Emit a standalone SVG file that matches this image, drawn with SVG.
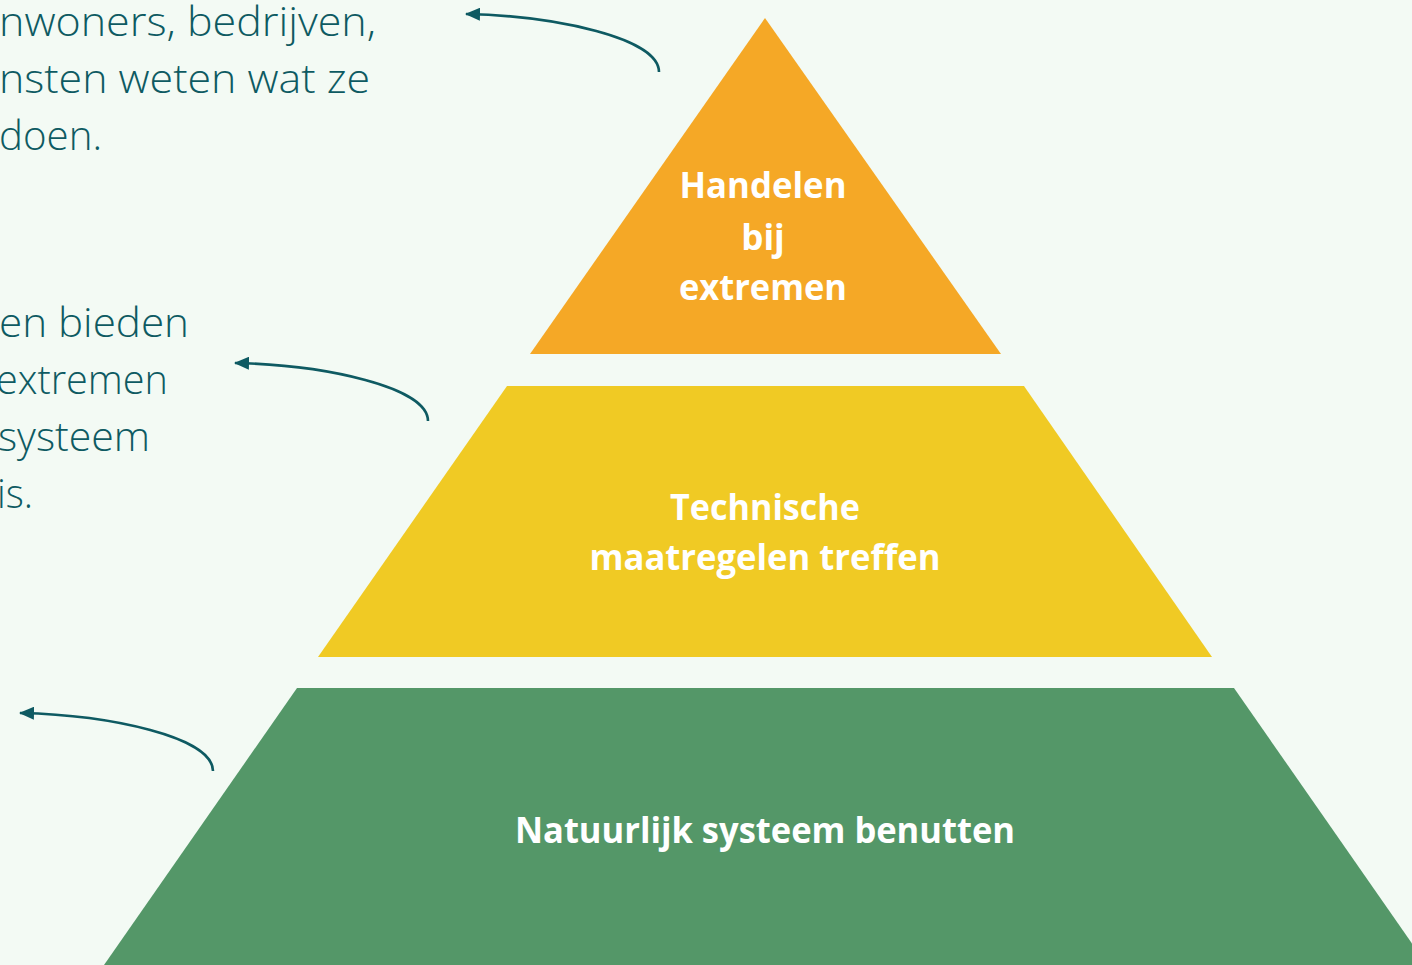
<svg xmlns="http://www.w3.org/2000/svg" width="1412" height="965" viewBox="0 0 1412 965">
<style>
.body{font-family:"Open Sans","Noto Sans","Liberation Sans",sans-serif;font-size:40px;font-weight:300;fill:#0E5A62;}
.lbl{font-family:"Open Sans","Noto Sans","Liberation Sans",sans-serif;font-size:35px;font-weight:700;fill:#FFFFFF;text-anchor:middle;}
.conn{fill:none;stroke:#0E5A62;stroke-width:2.6;}
</style>
<defs>
<marker id="ah" markerUnits="userSpaceOnUse" markerWidth="15" markerHeight="13" viewBox="0 0 15 13" refX="14" refY="6.5" orient="auto-start-reverse">
<path d="M0,0 L15,6.5 L0,13 z" fill="#0E5A62"/>
</marker>
</defs>
<rect x="0" y="0" width="1412" height="965" fill="#F3FAF4"/>
<g id="text-top">
<text class="body" x="-1" y="36" textLength="377" lengthAdjust="spacingAndGlyphs">nwoners, bedrijven,</text>
<text class="body" x="-1" y="93" textLength="371" lengthAdjust="spacingAndGlyphs">nsten weten wat ze</text>
<text class="body" x="-1" y="150" textLength="103" lengthAdjust="spacingAndGlyphs">doen.</text>
</g>
<g id="text-middle">
<text class="body" x="-1" y="337" textLength="190" lengthAdjust="spacingAndGlyphs">en bieden</text>
<text class="body" x="-4" y="394" textLength="172" lengthAdjust="spacingAndGlyphs">extremen</text>
<text class="body" x="-2" y="451" textLength="152" lengthAdjust="spacingAndGlyphs">systeem</text>
<text class="body" x="-3" y="508" textLength="36" lengthAdjust="spacingAndGlyphs">is.</text>
</g>
<g id="top-tier">
<polygon points="765,18 1001,354 530,354" fill="#F5A826"/>
<text class="lbl" x="763" y="198" textLength="167" lengthAdjust="spacingAndGlyphs">Handelen</text>
<text class="lbl" x="763" y="250">bij</text>
<text class="lbl" x="763" y="300" textLength="168" lengthAdjust="spacingAndGlyphs">extremen</text>
</g>
<g id="middle-tier">
<polygon points="507,386 1024,386 1212,657 318,657" fill="#F0CA24"/>
<text class="lbl" x="765" y="520" textLength="190" lengthAdjust="spacingAndGlyphs">Technische</text>
<text class="lbl" x="765" y="570" textLength="351" lengthAdjust="spacingAndGlyphs">maatregelen treffen</text>
</g>
<g id="bottom-tier">
<polygon points="297,688 1234,688 1427,965 104,965" fill="#549768"/>
<text class="lbl" x="765" y="843" textLength="500" lengthAdjust="spacingAndGlyphs">Natuurlijk systeem benutten</text>
</g>
<g id="connectors">
<path class="conn" marker-start="url(#ah)" d="M466,14 C556,16 659,38 659,72"/>
<path class="conn" marker-start="url(#ah)" d="M235,363 C325,365 428,387 428,421"/>
<path class="conn" marker-start="url(#ah)" d="M20,713 C110,715 213,737 213,771"/>
</g>
</svg>
